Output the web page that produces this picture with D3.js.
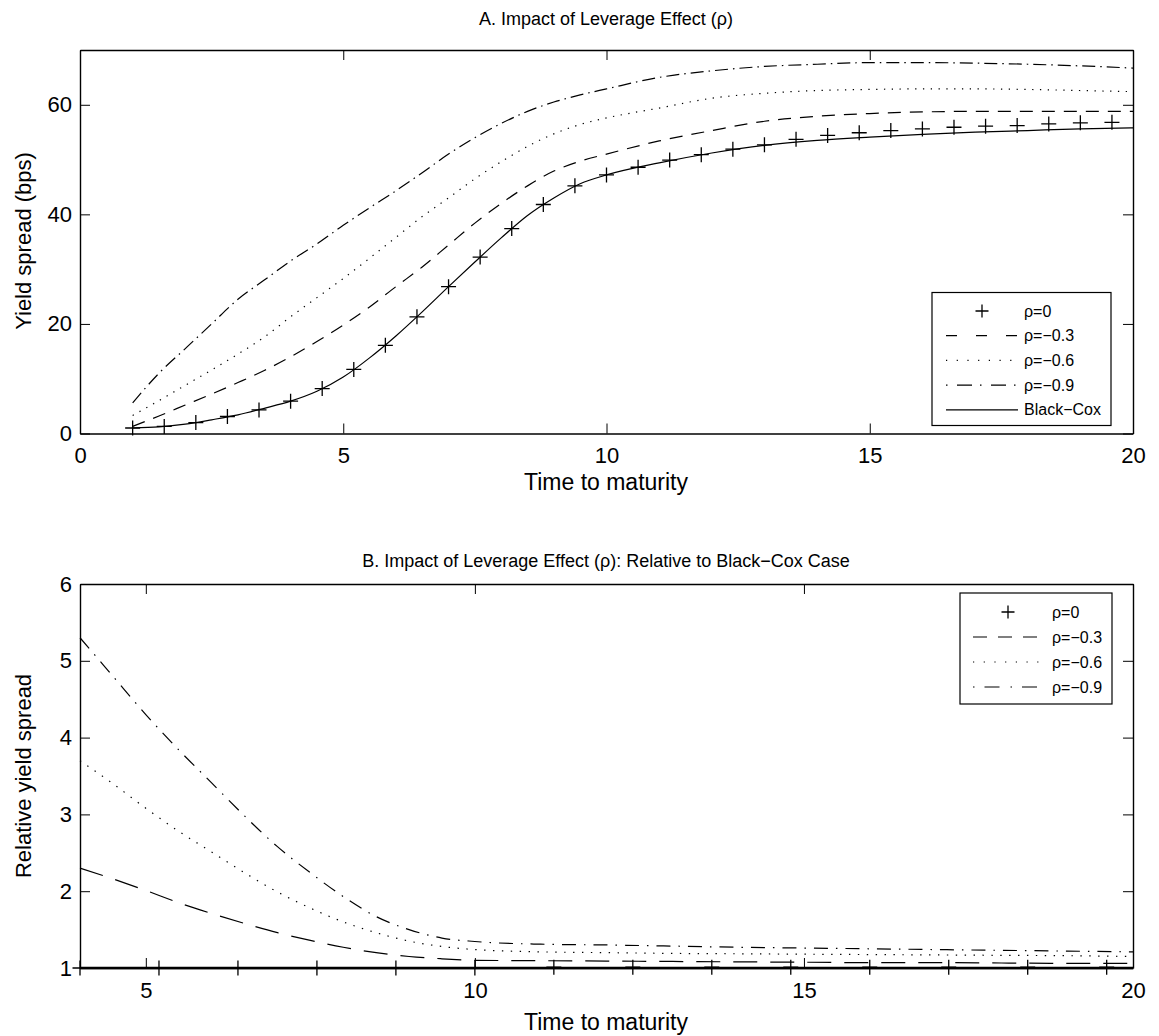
<!DOCTYPE html>
<html>
<head>
<meta charset="utf-8">
<script src="https://cdn.jsdelivr.net/npm/d3@7"></script>
<style>
  body { margin: 0; background: #fff; }
  svg { display: block; font-family: "Liberation Sans", Arial, Helvetica, sans-serif; }
</style>
</head>
<body>
<svg id="chart" width="1159" height="1036"></svg>
<script>
// ---- panel A: yield spread (bps) vs time to maturity
const knotsA = [1, 1.5, 2, 2.5, 3, 3.5, 4, 4.5, 5, 5.5, 6, 6.5, 7, 7.5, 8, 8.5, 9, 9.5, 10,
                11, 12, 13, 14, 15, 16, 17, 18, 19, 20];
const rho03A = [1.3, 3.2, 5.2, 7.2, 9.3, 11.5, 14.0, 16.8, 19.8, 23.1, 26.8, 30.4, 34.4, 38.4, 42.0, 45.2, 47.9, 49.7, 51.0,
                53.4, 55.3, 57.0, 57.9, 58.4, 58.7, 58.8, 58.8, 58.8, 58.8];
const rho06A = [3.3, 6.0, 8.8, 11.6, 14.5, 17.6, 21.3, 24.8, 28.3, 32.0, 35.8, 39.6, 43.0, 46.5, 49.6, 52.4, 54.7, 56.4, 57.6,
                59.4, 61.2, 62.1, 62.6, 62.8, 62.9, 62.9, 62.8, 62.6, 62.4];
const rho09A = [5.6, 11.0, 15.5, 20.0, 24.5, 28.0, 31.5, 34.6, 38.0, 41.2, 44.3, 47.6, 51.0, 54.0, 56.6, 58.8, 60.5, 61.8, 62.9,
                65.0, 66.2, 67.0, 67.4, 67.7, 67.7, 67.6, 67.4, 67.1, 66.7];
const blackCoxA = [1.0, 1.2, 1.7, 2.5, 3.4, 4.6, 5.9, 7.7, 10.3, 13.8, 17.8, 22.2, 26.8, 31.3, 35.7, 39.8, 43.0, 45.6, 47.2,
                   49.4, 51.2, 52.6, 53.5, 54.1, 54.6, 55.0, 55.3, 55.6, 55.8];
// rho = 0 is plotted with markers only
const markXA = [1.0, 1.6, 2.2, 2.8, 3.4, 4.0, 4.6, 5.2, 5.8, 6.4, 7.0, 7.6, 8.2, 8.8, 9.4, 10.0,
                10.6, 11.2, 11.8, 12.4, 13.0, 13.6, 14.2, 14.8, 15.4, 16.0, 16.6, 17.2, 17.8, 18.4, 19.0, 19.6];
const rho0A = [1.0, 1.3, 2.0, 3.1, 4.3, 5.9, 8.2, 11.7, 16.1, 21.3, 26.8, 32.2, 37.4, 41.8, 45.2, 47.2,
               48.6, 49.9, 50.9, 51.9, 52.7, 53.7, 54.4, 54.9, 55.3, 55.6, 55.9, 56.1, 56.2, 56.5, 56.7, 56.8];

// ---- panel B: relative to Black-Cox
const knotsB = [4, 4.5, 5, 5.5, 6, 6.5, 7, 7.5, 8, 8.5, 9, 9.5, 10,
                11, 12, 13, 14, 15, 16, 17, 18, 19, 20];
const rho03B = [2.30, 2.16, 2.01, 1.85, 1.71, 1.58, 1.46, 1.36, 1.27, 1.20, 1.15, 1.12, 1.10,
                1.095, 1.09, 1.085, 1.08, 1.075, 1.07, 1.07, 1.065, 1.06, 1.06];
const rho06B = [3.70, 3.40, 3.08, 2.78, 2.51, 2.24, 1.99, 1.78, 1.60, 1.46, 1.35, 1.28, 1.24,
                1.21, 1.20, 1.19, 1.185, 1.18, 1.175, 1.17, 1.165, 1.16, 1.15];
const rho09B = [5.30, 4.80, 4.30, 3.84, 3.41, 2.98, 2.58, 2.24, 1.93, 1.67, 1.50, 1.39, 1.345,
                1.31, 1.30, 1.285, 1.27, 1.26, 1.25, 1.24, 1.23, 1.22, 1.21];
const markXB = [4.0, 5.2, 6.4, 7.6, 8.8, 10.0, 11.2, 12.4, 13.6, 14.8, 16.0, 17.2, 18.4, 19.6];
const rho0B = [1.0, 1.0, 1.0, 1.0, 1.0, 1.0, 1.01, 1.01, 1.01, 1.01, 1.01, 1.01, 1.01, 1.01];

const ticksXA = [0, 5, 10, 15, 20];
const ticksYA = [0, 20, 40, 60];
const ticksXB = [5, 10, 15, 20];
const ticksYB = [1, 2, 3, 4, 5, 6];

const legendA = ["\u03c1=0", "\u03c1=\u22120.3", "\u03c1=\u22120.6", "\u03c1=\u22120.9", "Black\u2212Cox"];
const legendB = ["\u03c1=0", "\u03c1=\u22120.3", "\u03c1=\u22120.6", "\u03c1=\u22120.9"];

const svg = d3.select("#chart");
const tickFont = 22;
const fmt = d3.format("~g");

function zip(xs, ys) { return xs.map((x, i) => [x, ys[i]]); }

function drawFrame(x, y, xt, yt, left, right, top, bottom) {
  const g = svg.append("g");
  const styleAxis = sel => {
    sel.attr("font-family", null).attr("font-size", tickFont);
    sel.select(".domain").attr("stroke-width", 1.4);
    sel.selectAll(".tick line").attr("stroke-width", 1);
    sel.selectAll("text").attr("fill", "#000");
  };
  g.append("g").attr("transform", `translate(0,${bottom})`)
    .call(d3.axisBottom(x).tickValues(xt).tickFormat(fmt).tickSizeInner(-10).tickSizeOuter(0).tickPadding(14))
    .call(styleAxis);
  g.append("g").attr("transform", `translate(0,${top})`)
    .call(d3.axisTop(x).tickValues(xt).tickSizeInner(-10).tickSizeOuter(0).tickFormat(""))
    .call(styleAxis);
  g.append("g").attr("transform", `translate(${left},0)`)
    .call(d3.axisLeft(y).tickValues(yt).tickFormat(fmt).tickSizeInner(-10).tickSizeOuter(0).tickPadding(8))
    .call(styleAxis);
  g.append("g").attr("transform", `translate(${right},0)`)
    .call(d3.axisRight(y).tickValues(yt).tickSizeInner(-10).tickSizeOuter(0).tickFormat(""))
    .call(styleAxis);
}

function plus(g, cx, cy, s) {
  g.append("path")
    .attr("d", `M${cx - s},${cy}H${cx + s}M${cx},${cy - s}V${cy + s}`)
    .attr("stroke", "#000").attr("stroke-width", 1.3).attr("fill", "none");
}

// ================= panel A =================
const leftA = 80, rightA = 1133, topA = 50, bottomA = 433.5;
const xA = d3.scaleLinear().domain([0, 20]).range([leftA, rightA]);
const yA = d3.scaleLinear().domain([0, 70]).range([bottomA, topA]);
const lineA = d3.line().x(d => xA(d[0])).y(d => yA(d[1])).curve(d3.curveMonotoneX);

const seriesA = [
  { data: rho03A, dash: "13,9" },
  { data: rho06A, dash: "1.3,6.5" },
  { data: rho09A, dash: "13,5,1.5,5" },
  { data: blackCoxA, dash: null }
];
seriesA.forEach(s => {
  svg.append("path").datum(zip(knotsA, s.data))
    .attr("d", lineA).attr("fill", "none").attr("stroke", "#000")
    .attr("stroke-width", 1.2).attr("stroke-dasharray", s.dash);
});
const mA = svg.append("g");
zip(markXA, rho0A).forEach(d => plus(mA, xA(d[0]), yA(d[1]), 7.5));

drawFrame(xA, yA, ticksXA, ticksYA, leftA, rightA, topA, bottomA);

svg.append("text").attr("x", 606).attr("y", 24.5).attr("text-anchor", "middle")
  .attr("font-size", 18).text("A. Impact of Leverage Effect (\u03c1)");
svg.append("text").attr("x", 606).attr("y", 490).attr("text-anchor", "middle")
  .attr("font-size", 23).text("Time to maturity");
svg.append("text").attr("transform", "translate(31,241) rotate(-90)").attr("text-anchor", "middle")
  .attr("font-size", 22).text("Yield spread (bps)");

// legend A
const legA = svg.append("g");
legA.append("rect").attr("x", 932).attr("y", 292.5).attr("width", 179).attr("height", 133)
  .attr("fill", "#fff").attr("stroke", "#000").attr("stroke-width", 1.2);
const legDashA = [null, "11,19", "1.2,9.5", "1.5,9.5,15,8", null];
legendA.forEach((t, i) => {
  const yy = 311 + i * 24.7;
  if (i === 0) plus(legA, 982, yy, 6.5);
  else legA.append("line").attr("x1", 946).attr("x2", 1018).attr("y1", yy).attr("y2", yy)
    .attr("stroke", "#000").attr("stroke-width", 1.2).attr("stroke-dasharray", legDashA[i]);
  legA.append("text").attr("x", 1024).attr("y", yy + 5.5).attr("font-size", 16).text(t);
});

// ================= panel B =================
const leftB = 80, rightB = 1133, topB = 584, bottomB = 968;
const xB = d3.scaleLinear().domain([4, 20]).range([leftB, rightB]);
const yB = d3.scaleLinear().domain([1, 6]).range([bottomB, topB]);
const lineB = d3.line().x(d => xB(d[0])).y(d => yB(d[1])).curve(d3.curveMonotoneX);

const seriesB = [
  { data: rho03B, dash: "24,13" },
  { data: rho06B, dash: "1.4,7.5" },
  { data: rho09B, dash: "14,8,1.5,8" }
];
seriesB.forEach(s => {
  svg.append("path").datum(zip(knotsB, s.data))
    .attr("d", lineB).attr("fill", "none").attr("stroke", "#000")
    .attr("stroke-width", 1.2).attr("stroke-dasharray", s.dash);
});
const mB = svg.append("g");
zip(markXB, rho0B).forEach(d => plus(mB, xB(d[0]), yB(d[1]), 7.5));

drawFrame(xB, yB, ticksXB, ticksYB, leftB, rightB, topB, bottomB);
svg.append("line").attr("x1", leftB).attr("x2", rightB).attr("y1", bottomB).attr("y2", bottomB)
  .attr("stroke", "#000").attr("stroke-width", 2.4);

svg.append("text").attr("x", 606).attr("y", 566.5).attr("text-anchor", "middle")
  .attr("font-size", 18).text("B. Impact of Leverage Effect (\u03c1): Relative to Black\u2212Cox Case");
svg.append("text").attr("x", 606).attr("y", 1030).attr("text-anchor", "middle")
  .attr("font-size", 23).text("Time to maturity");
svg.append("text").attr("transform", "translate(31,776) rotate(-90)").attr("text-anchor", "middle")
  .attr("font-size", 22).text("Relative yield spread");

// legend B
const legB = svg.append("g");
legB.append("rect").attr("x", 960).attr("y", 593).attr("width", 152).attr("height", 111)
  .attr("fill", "#fff").attr("stroke", "#000").attr("stroke-width", 1.2);
const legDashB = [null, "14,11", "1.2,9.5", "1.5,10,15,11"];
legendB.forEach((t, i) => {
  const yy = 612 + i * 25;
  if (i === 0) plus(legB, 1008, yy, 6.5);
  else legB.append("line").attr("x1", 973).attr("x2", 1043).attr("y1", yy).attr("y2", yy)
    .attr("stroke", "#000").attr("stroke-width", 1.2).attr("stroke-dasharray", legDashB[i]);
  legB.append("text").attr("x", 1052).attr("y", yy + 5.5).attr("font-size", 16).text(t);
});
</script>
</body>
</html>
